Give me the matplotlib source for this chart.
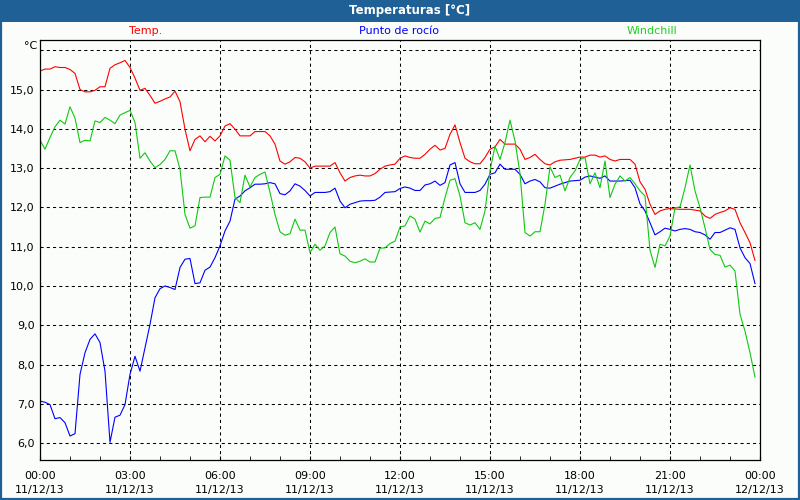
import numpy as np
import matplotlib
matplotlib.use("Agg")
import matplotlib.pyplot as plt
from matplotlib.patches import Rectangle

# readings every 10 minutes, 00:00 -> 23:50 (11/12/13)
minutes = np.arange(0, 1440, 10)

temp = [15.47, 15.52, 15.52, 15.58, 15.56, 15.56, 15.51, 15.41, 15.00, 14.94, 14.94, 14.98,
        15.07, 15.07, 15.54, 15.63, 15.68, 15.74, 15.56, 15.29, 14.98, 15.03, 14.85, 14.65,
        14.70, 14.76, 14.81, 14.96, 14.69, 13.99, 13.44, 13.73, 13.82, 13.67, 13.81, 13.69,
        13.82, 14.07, 14.13, 13.99, 13.82, 13.82, 13.82, 13.93, 13.93, 13.93, 13.82, 13.61,
        13.18, 13.10, 13.16, 13.27, 13.25, 13.16, 13.00, 13.05, 13.05, 13.05, 13.05, 13.14,
        12.88, 12.67, 12.76, 12.80, 12.82, 12.80, 12.80, 12.86, 12.97, 13.05, 13.08, 13.10,
        13.25, 13.31, 13.27, 13.25, 13.25, 13.35, 13.48, 13.58, 13.46, 13.50, 13.86, 14.10,
        13.65, 13.25, 13.16, 13.11, 13.11, 13.27, 13.48, 13.54, 13.73, 13.61, 13.61, 13.61,
        13.48, 13.22, 13.27, 13.35, 13.22, 13.11, 13.08, 13.16, 13.20, 13.21, 13.22, 13.25,
        13.28, 13.28, 13.33, 13.33, 13.28, 13.31, 13.22, 13.18, 13.22, 13.22, 13.22, 13.10,
        12.65, 12.46, 12.08, 11.82, 11.91, 11.95, 11.97, 11.96, 11.95, 11.95, 11.95, 11.93,
        11.91, 11.78, 11.72, 11.82, 11.87, 11.91, 11.99, 11.95, 11.61, 11.36, 11.10, 10.65]

dew = [7.07, 7.04, 6.98, 6.62, 6.65, 6.52, 6.18, 6.24, 7.75, 8.30, 8.64, 8.78,
       8.56, 7.83, 6.02, 6.66, 6.71, 6.98, 7.75, 8.21, 7.83, 8.42, 9.02, 9.70,
       9.93, 10.00, 9.96, 9.91, 10.47, 10.68, 10.70, 10.06, 10.08, 10.40, 10.48, 10.72,
       11.02, 11.40, 11.65, 12.21, 12.29, 12.42, 12.50, 12.59, 12.59, 12.60, 12.63, 12.60,
       12.35, 12.32, 12.42, 12.60, 12.54, 12.43, 12.29, 12.38, 12.38, 12.38, 12.40, 12.49,
       12.16, 11.99, 12.08, 12.12, 12.16, 12.17, 12.17, 12.18, 12.26, 12.38, 12.39, 12.40,
       12.48, 12.52, 12.49, 12.43, 12.43, 12.57, 12.60, 12.67, 12.56, 12.63, 13.08, 13.14,
       12.60, 12.38, 12.38, 12.38, 12.43, 12.59, 12.84, 12.88, 13.10, 12.97, 12.97, 12.97,
       12.84, 12.60, 12.67, 12.71, 12.65, 12.50, 12.49, 12.54, 12.59, 12.63, 12.67, 12.68,
       12.69, 12.77, 12.80, 12.77, 12.74, 12.80, 12.67, 12.67, 12.67, 12.68, 12.69, 12.50,
       12.09, 11.91, 11.61, 11.30, 11.38, 11.47, 11.44, 11.40, 11.44, 11.46, 11.44, 11.38,
       11.36, 11.30, 11.19, 11.36, 11.36, 11.42, 11.48, 11.44, 10.97, 10.72, 10.57, 10.06]

windchill = [13.71, 13.48, 13.78, 14.05, 14.22, 14.12, 14.56, 14.27, 13.65, 13.71, 13.69, 14.20,
             14.16, 14.29, 14.22, 14.13, 14.35, 14.41, 14.47, 14.16, 13.25, 13.39, 13.18, 13.01,
             13.09, 13.22, 13.44, 13.44, 12.97, 11.82, 11.47, 11.53, 12.25, 12.26, 12.26, 12.76,
             12.84, 13.31, 13.20, 12.25, 12.12, 12.82, 12.52, 12.76, 12.84, 12.90, 12.38, 11.82,
             11.38, 11.29, 11.33, 11.70, 11.42, 11.42, 10.85, 11.06, 10.91, 11.02, 11.36, 11.50,
             10.82, 10.76, 10.63, 10.59, 10.63, 10.69, 10.61, 10.61, 10.96, 10.97, 11.08, 11.14,
             11.50, 11.53, 11.78, 11.70, 11.37, 11.65, 11.58, 11.72, 11.74, 12.25, 12.69, 12.73,
             12.29, 11.61, 11.55, 11.61, 11.44, 11.91, 12.93, 13.56, 13.22, 13.65, 14.22, 13.69,
             12.86, 11.36, 11.27, 11.38, 11.38, 12.08, 13.03, 12.76, 12.82, 12.42, 12.76, 12.93,
             13.22, 13.27, 12.60, 12.88, 12.50, 13.18, 12.25, 12.59, 12.80, 12.67, 12.76, 12.60,
             12.42, 12.29, 10.91, 10.47, 11.06, 11.02, 11.27, 11.99, 12.01, 12.50, 13.08, 12.42,
             11.99, 11.48, 10.93, 10.80, 10.78, 10.48, 10.53, 10.38, 9.28, 8.85, 8.30, 7.68]

tick_times = ["00:00", "03:00", "06:00", "09:00", "12:00", "15:00", "18:00", "21:00", "00:00"]
tick_dates = ["11/12/13"] * 8 + ["12/12/13"]
y_ticks = [6, 7, 8, 9, 10, 11, 12, 13, 14, 15, 16]

hours = minutes / 60.0
bg = '#fbfdfb'
bar_blue = '#1f6196'

fig = plt.figure(figsize=(8, 5), dpi=100, facecolor=bg)
ax = fig.add_axes([0.05, 0.08, 0.90, 0.84])
ax.set_facecolor(bg)

ax.plot(hours, temp, color='#ff0000', lw=0.8)
ax.plot(hours, dew, color='#0000ff', lw=0.8)
ax.plot(hours, windchill, color='#10c810', lw=0.8)

ax.set_xlim(0, 24)
ax.set_ylim(5.57, 16.26)
ax.set_xticks(np.arange(0, 25, 3))
ax.set_xticks(np.arange(0, 25, 1), minor=True)
ax.set_xticklabels([t + "\n" + d for t, d in zip(tick_times, tick_dates)],
                   fontsize=8, linespacing=1.5)
ax.set_yticks(y_ticks)
ax.set_yticklabels([("%.1f" % v).replace(".", ",") if v < 16 else "" for v in y_ticks], fontsize=8)
ax.tick_params(axis='x', which='both', direction='in', length=3, pad=8, color='black')
ax.tick_params(axis='y', length=0, pad=4)
ax.grid(True, which='major', color='black', lw=0.75, linestyle=(0, (3, 3)))
for s in ax.spines.values():
    s.set_linewidth(0.9)
    s.set_color('black')

# title bar and window frame
fig.patches.append(Rectangle((0, 0.957), 1, 0.043, transform=fig.transFigure,
                             facecolor=bar_blue, edgecolor='none', zorder=0))
fig.patches.append(Rectangle((0.001, 0.002), 0.998, 0.996, transform=fig.transFigure,
                             facecolor='none', edgecolor=bar_blue, lw=1.6, zorder=5))
fig.text(0.512, 0.979, "Temperaturas [°C]", color='white', fontsize=8.5,
         fontweight='bold', ha='center', va='center')

# series labels
fig.text(146 / 800, 1 - 31 / 500, "Temp.", color='#ff0000', fontsize=8, ha='center', va='center')
fig.text(399 / 800, 1 - 31 / 500, "Punto de rocío", color='#0000ff', fontsize=8, ha='center', va='center')
fig.text(652 / 800, 1 - 31 / 500, "Windchill", color='#20d020', fontsize=8, ha='center', va='center')
fig.text(37 / 800, 1 - 46 / 500, "°C", color='black', fontsize=8, ha='right', va='center')

fig.savefig("out.png", dpi=100, facecolor=bg)
